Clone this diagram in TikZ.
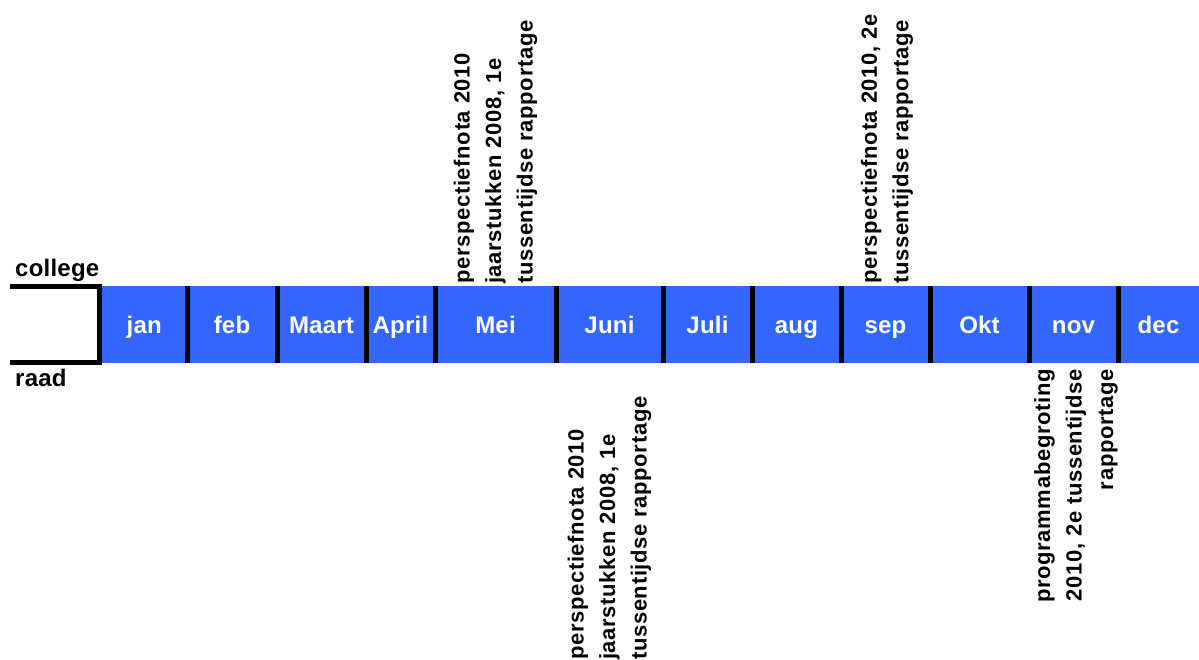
\documentclass[tikz,border=0pt]{standalone}
\usepackage{fontspec}
\setmainfont{Liberation Sans}
\usepackage{tikz}
\usetikzlibrary{positioning}

\definecolor{balk}{RGB}{51,102,255}

\begin{document}
\begin{tikzpicture}[x=1pt,y=-1pt,
  maand/.style={fill=balk,inner sep=0,outer sep=0,minimum height=77pt,text=white,
    font=\fontsize{24}{28}\selectfont\bfseries\addfontfeature{LetterSpace=1},text height=17.2pt,text depth=0pt},
  grens/.style={line width=5pt},
  notitie/.style={rotate=90,inner sep=0,font=\fontsize{22}{31.5}\selectfont\bfseries\addfontfeature{LetterSpace=3}},
  kant/.style={inner sep=0,anchor=base west,font=\fontsize{24}{28}\selectfont\bfseries\addfontfeature{LetterSpace=1}}]
\useasboundingbox (0,0) rectangle (1199,660);
% de maanden
\node[maand,minimum width=85.5pt] (jan) at (144.25,324.5) {jan};
\node[maand,minimum width=90pt] (feb) at (232,324.5) {feb};
\node[maand,minimum width=89pt] (maart) at (321.5,324.5) {Maart};
\node[maand,minimum width=69pt] (april) at (400.5,324.5) {April};
\node[maand,minimum width=121pt] (mei) at (495.5,324.5) {Mei};
\node[maand,minimum width=107pt] (juni) at (609.5,324.5) {Juni};
\node[maand,minimum width=89pt] (juli) at (707.5,324.5) {Juli};
\node[maand,minimum width=89pt] (aug) at (796.5,324.5) {aug};
\node[maand,minimum width=89pt] (sep) at (885.5,324.5) {sep};
\node[maand,minimum width=99pt] (okt) at (979.5,324.5) {Okt};
\node[maand,minimum width=89pt] (nov) at (1073.5,324.5) {nov};
\node[maand,minimum width=81pt] (dec) at (1158.5,324.5) {dec};
% grenzen
\draw[grens] (jan.north east) -- (jan.south east);
\draw[grens] (feb.north east) -- (feb.south east);
\draw[grens] (maart.north east) -- (maart.south east);
\draw[grens] (april.north east) -- (april.south east);
\draw[grens] (mei.north east) -- (mei.south east);
\draw[grens] (juni.north east) -- (juni.south east);
\draw[grens] (juli.north east) -- (juli.south east);
\draw[grens] (aug.north east) -- (aug.south east);
\draw[grens] (sep.north east) -- (sep.south east);
\draw[grens] (okt.north east) -- (okt.south east);
\draw[grens] (nov.north east) -- (nov.south east);
% college / raad
\coordinate (boven) at (10,286.5);
\coordinate (onder) at (10,362.5);
\draw[grens] (boven) -- ([xshift=-2.5pt,yshift=-0.5pt]jan.north west) -- ([xshift=-2.5pt,yshift=0.5pt]jan.south west) -- (onder);
\node[kant] (college) at (15,277) {college};
\node[kant] (raad) at (15,386.5) {raad};
% stukken
\node[notitie,anchor=west,align=left] (meistuk) at ([yshift=2pt]mei.north) {perspectiefnota 2010\\jaarstukken 2008, 1e\\tussentijdse rapportage};
\node[notitie,anchor=west,align=left] (junistuk) at ([yshift=-297pt]juni.south) {perspectiefnota 2010\\jaarstukken 2008, 1e\\tussentijdse rapportage};
\node[notitie,anchor=west,align=left] (sepstuk) at ([xshift=1.5pt,yshift=2pt]sep.north) {perspectiefnota 2010, 2e\\tussentijdse rapportage};
\node[notitie,anchor=east,align=right] (novstuk) at ([xshift=2.5pt,yshift=-6pt]nov.south) {programmabegroting\\2010, 2e tussentijdse\\rapportage};
\end{tikzpicture}
\end{document}
